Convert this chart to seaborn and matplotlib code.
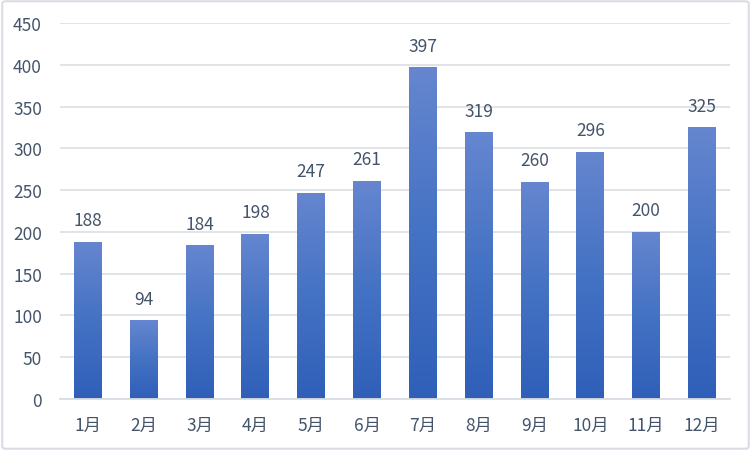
import numpy as np
import matplotlib.pyplot as plt
import matplotlib.patches as mpatches
from matplotlib.colors import LinearSegmentedColormap
import seaborn as sns
import pandas as pd

months = ['1月', '2月', '3月', '4月', '5月', '6月', '7月', '8月', '9月', '10月', '11月', '12月']
values = [188, 94, 184, 198, 247, 261, 397, 319, 260, 296, 200, 325]

df = pd.DataFrame({'month': months, 'value': values})

sns.set_style('white')
plt.rcParams['font.family'] = ['Noto Sans CJK SC', 'DejaVu Sans']
text_color = '#44546a'

fig = plt.figure(figsize=(7.51, 4.52), dpi=100)
ax = fig.add_axes([60 / 751, 52 / 452, 670 / 751, 376 / 452])

plot = sns.barplot(data=df, x='month', y='value', color='#4472c4', width=0.5, ax=ax)

# gradient fill for each bar, lighter at the top
cmap = LinearSegmentedColormap.from_list('bar', ['#2f5fb8', '#4472c4', '#6686cf'])
grad = np.linspace(0, 1, 256).reshape(-1, 1)
for bar in plot.patches:
    x0, y0 = bar.get_x(), bar.get_y()
    w, h = bar.get_width(), bar.get_height()
    im = ax.imshow(grad, cmap=cmap, origin='lower', aspect='auto',
                   extent=[x0, x0 + w, y0, y0 + h], zorder=2)
    im.set_clip_path(bar)
    bar.set_edgecolor('none')

ax.set_xlim(-0.5, len(months) - 0.5)
ax.set_ylim(0, 450)
ax.set_yticks(np.arange(0, 451, 50))
ax.yaxis.grid(True, color='#dde1e6', linewidth=1.3)
ax.set_axisbelow(True)
for s in ['top', 'right', 'left']:
    ax.spines[s].set_visible(False)
ax.spines['bottom'].set_color('#d9dde3')
ax.spines['bottom'].set_linewidth(1.3)
ax.tick_params(axis='both', length=0, labelsize=12.5, colors=text_color)
ax.tick_params(axis='y', pad=13)
ax.tick_params(axis='x', pad=12)
ax.set_xlabel('')
ax.set_ylabel('')

# value labels above bars
ax.bar_label(plot.containers[0], labels=[str(v) for v in values],
             padding=9, fontsize=12.5, color=text_color)

# light border around the whole chart
fig.patches.append(mpatches.FancyBboxPatch((0.003, 0.005), 0.994, 0.99,
                                           boxstyle='round,pad=0,rounding_size=0.005',
                                           transform=fig.transFigure, fill=False,
                                           edgecolor='#d9dde3', linewidth=1.5))

plt.savefig('out.png', dpi=100)
